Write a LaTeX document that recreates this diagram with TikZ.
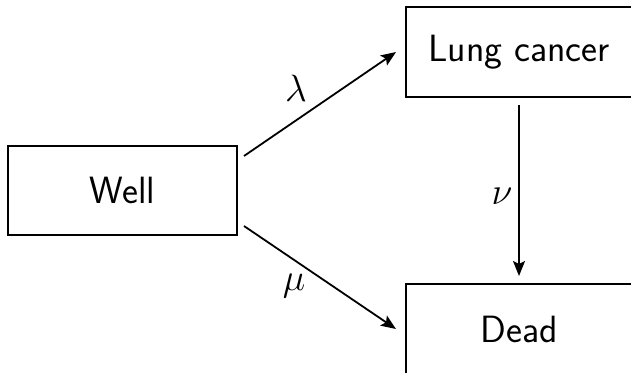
\RequirePackage{fix-cm}
\documentclass[tikz,border=0pt]{standalone}
\usetikzlibrary{arrows.meta}
\begin{document}
\begin{tikzpicture}[x=1pt,y=-1pt,
  state/.style={draw,line width=2pt,rectangle,minimum height=89pt,inner sep=0pt,
    font=\sffamily\fontsize{38}{40}\selectfont},
  trans/.style={line width=1.8pt,-{Stealth[length=15pt,width=12pt,inset=3pt]}},
  rate/.style={font=\fontsize{38}{40}\selectfont,inner sep=0pt}]
  \useasboundingbox (0,0) rectangle (631,372);
  \clip (0,0) rectangle (631,372);
  \node[state,minimum width=229pt] (well) at (122.5,190.5) {Well};
  \node[state,minimum width=226pt,minimum height=90pt] (lung) at (519,52) {Lung cancer};
  \node[state,minimum width=226pt,minimum height=90pt] (dead) at (519,329) {Dead};
  \draw[trans] ([shift={(6,11)}]well.north east) -- ([xshift=-9pt]lung.west);
  \draw[trans] ([shift={(6,-10)}]well.south east) -- ([xshift=-9pt]dead.west);
  \draw[trans] ([yshift=-7pt]lung.south) -- ([yshift=7pt]dead.north);
  \node[rate] (lam) at (296,88) {$\lambda$};
  \node[rate] (mu) at (294,286) {$\mu$};
  \node[rate] (nu) at (502,196) {$\nu$};
\end{tikzpicture}
\end{document}
